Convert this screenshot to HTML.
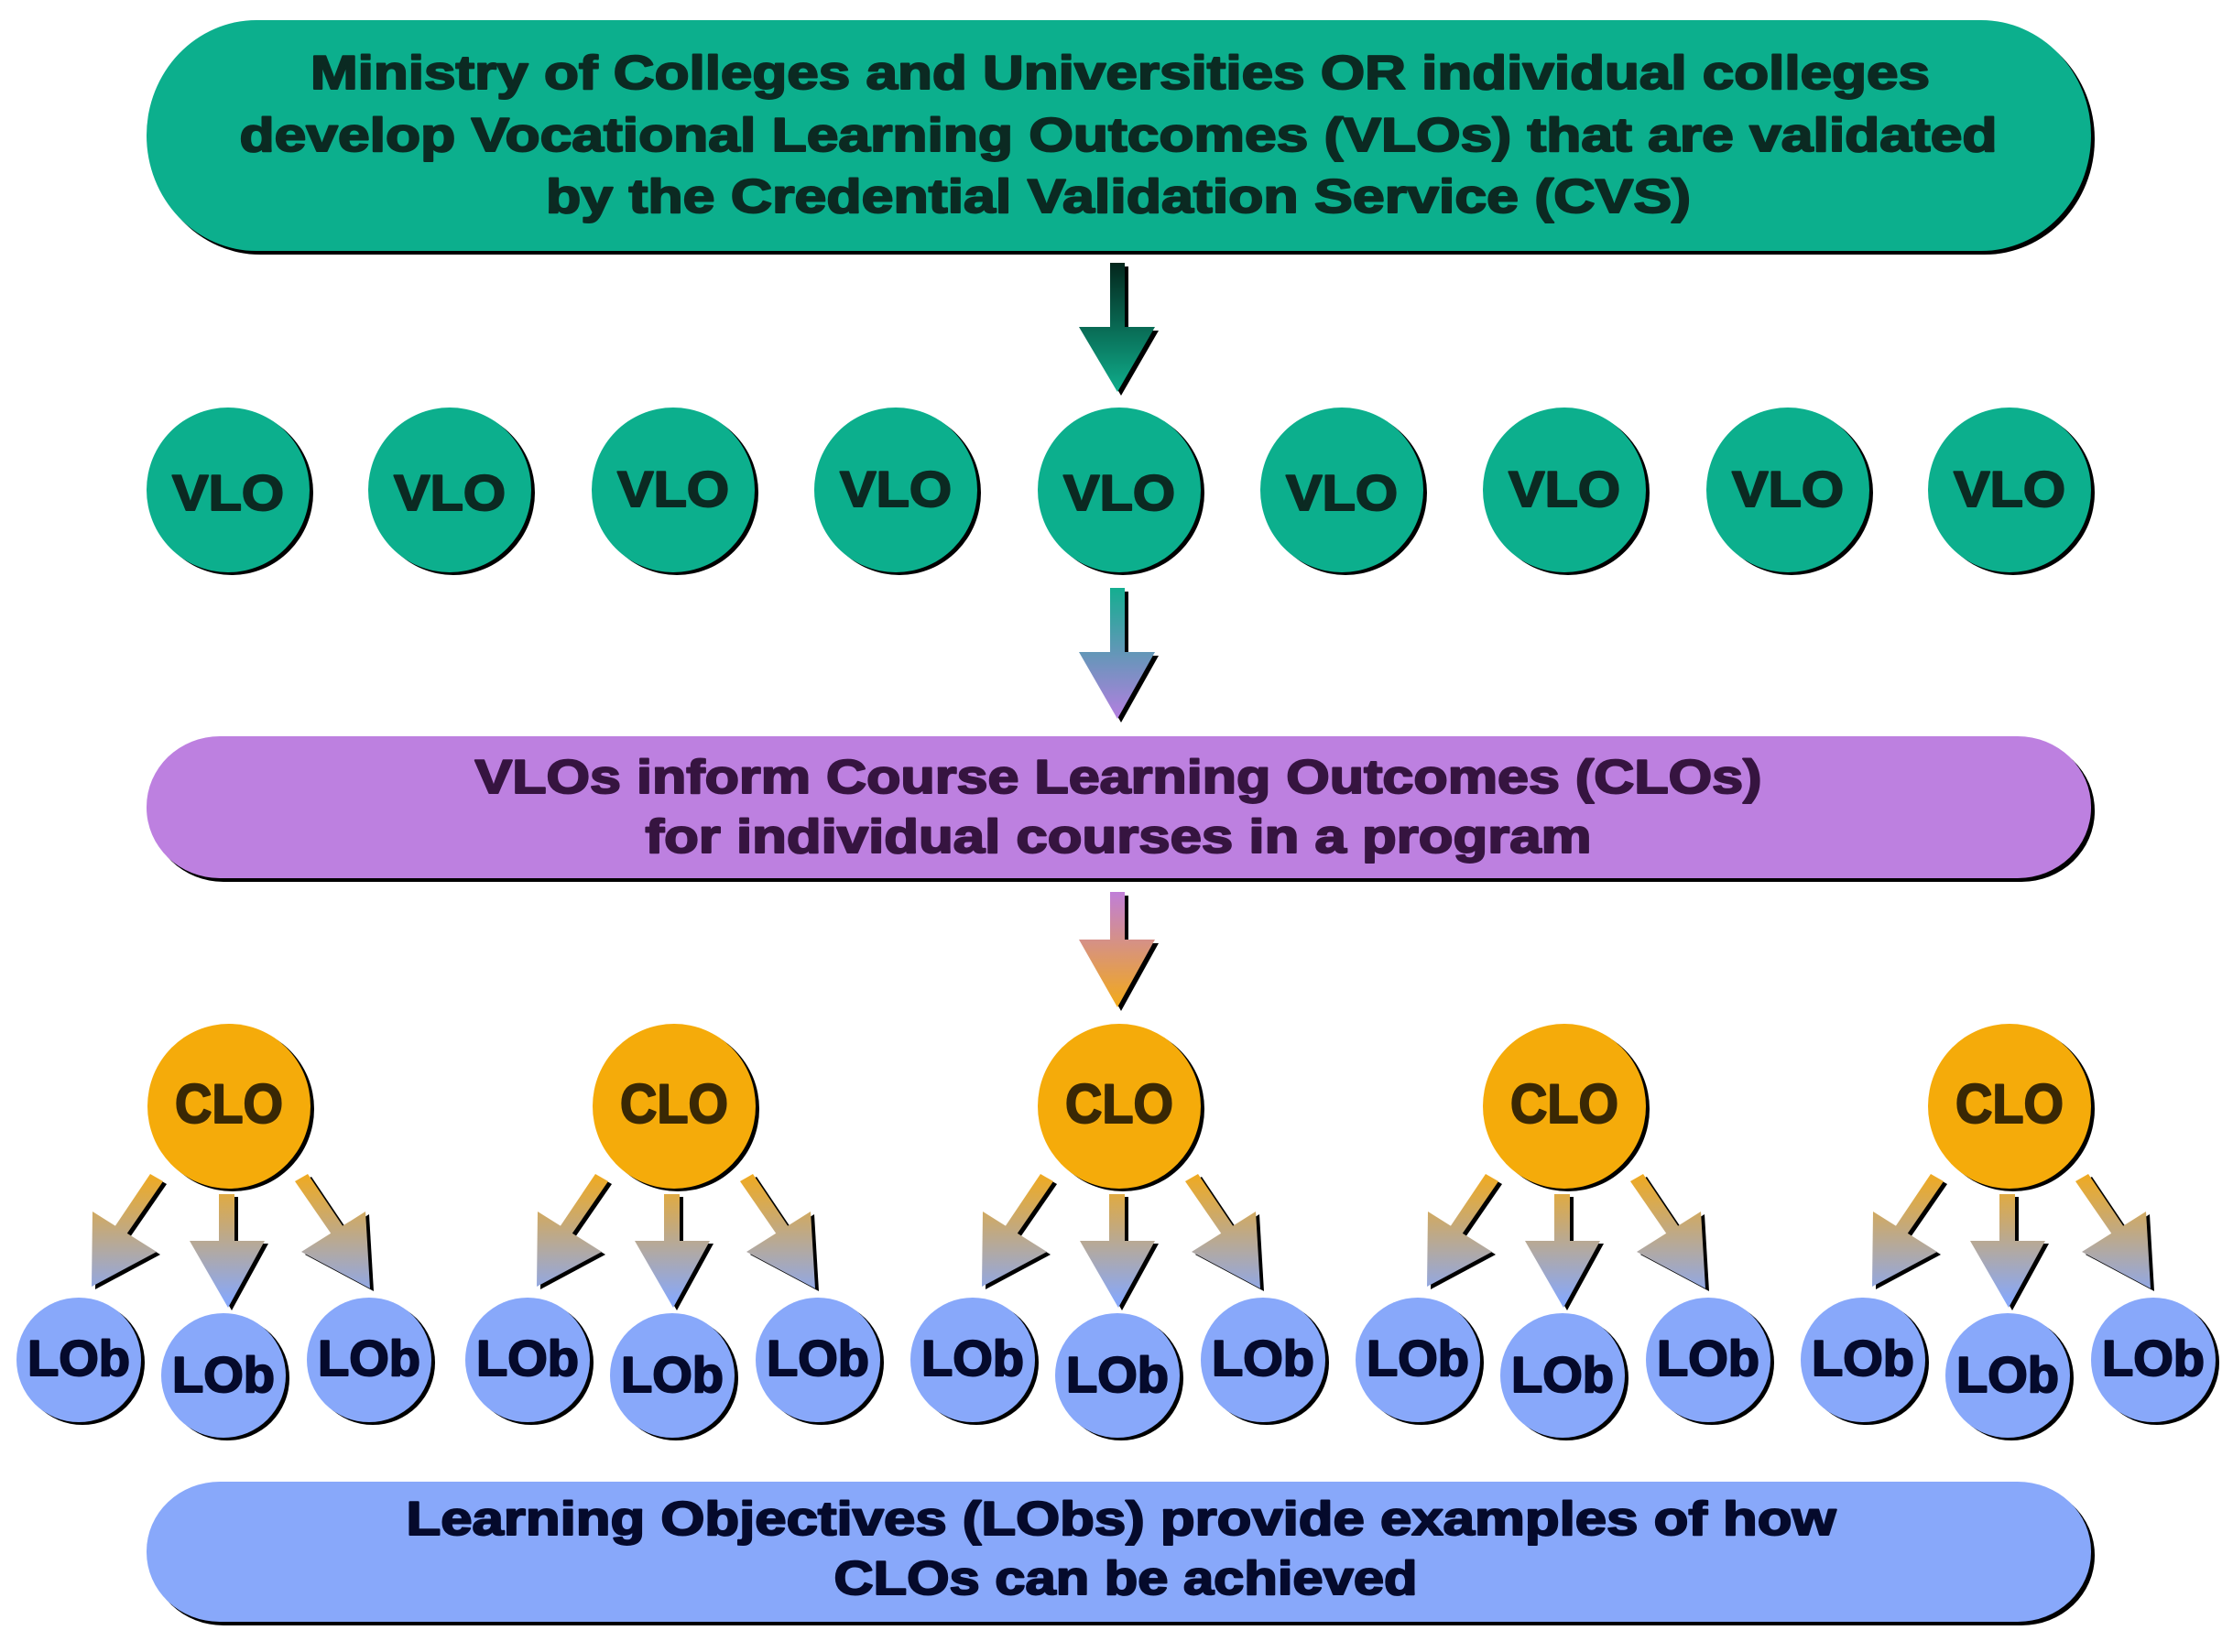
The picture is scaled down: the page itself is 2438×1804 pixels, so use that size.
<!DOCTYPE html>
<html><head><meta charset="utf-8"><style>
html,body{margin:0;padding:0;background:#fff;}
svg{display:block;}
text{font-family:"Liberation Sans",Arial,sans-serif;font-weight:bold;text-anchor:middle;stroke-width:2px;stroke-linejoin:round;}
</style></head><body>
<svg width="2438" height="1804" viewBox="0 0 2438 1804" xmlns="http://www.w3.org/2000/svg">
<defs>
<linearGradient id="g1" x1="0" y1="0" x2="0" y2="1"><stop offset="0" stop-color="#03261c"/><stop offset="1" stop-color="#0fae8c"/></linearGradient>
<linearGradient id="g2" x1="0" y1="0" x2="0" y2="1"><stop offset="0" stop-color="#14ae90"/><stop offset="1" stop-color="#b47fe0"/></linearGradient>
<linearGradient id="g3" x1="0" y1="0" x2="0" y2="1"><stop offset="0" stop-color="#c07ed8"/><stop offset="1" stop-color="#f2aa18"/></linearGradient>
<linearGradient id="g4" gradientUnits="userSpaceOnUse" x1="0" y1="1282" x2="0" y2="1420"><stop offset="0" stop-color="#f0aa20"/><stop offset="1" stop-color="#88a8f8"/></linearGradient>
<g id="lobarrows">
  <g transform="translate(4,3)" fill="#000">
    <polygon points="-11,1304 6,1304 6,1355 39,1355 -1,1428 -43,1355 -11,1355"/>
    <polygon points="72,1290 86,1282 125,1340 112,1348"/><polygon points="149,1323 79,1367 154,1407"/>
    <polygon points="-72,1290 -86,1282 -125,1340 -112,1348"/><polygon points="-149,1323 -79,1367 -150,1405"/>
  </g>
  <g fill="url(#g4)">
    <polygon points="-11,1304 6,1304 6,1355 39,1355 -1,1428 -43,1355 -11,1355"/>
    <polygon points="72,1290 86,1282 125,1340 112,1348"/><polygon points="149,1323 79,1367 154,1407"/>
    <polygon points="-72,1290 -86,1282 -125,1340 -112,1348"/><polygon points="-149,1323 -79,1367 -150,1405"/>
  </g>
</g>
</defs>

<rect x="164" y="26" width="2123" height="252" rx="120" ry="126" fill="#000"/>
<rect x="160" y="22" width="2123" height="252" rx="120" ry="126" fill="#0caf8d"/>
<g fill="#0b2a22" stroke="#0b2a22" font-size="52">
<text x="1223" y="97" textLength="1768" lengthAdjust="spacingAndGlyphs">Ministry of Colleges and Universities OR individual colleges</text>
<text x="1221" y="165" textLength="1919" lengthAdjust="spacingAndGlyphs">develop Vocational Learning Outcomes (VLOs) that are validated</text>
<text x="1221" y="232" textLength="1250" lengthAdjust="spacingAndGlyphs">by the Credential Validation Service (CVS)</text>
</g>

<polygon transform="translate(4,4)" points="1212,287 1228,287 1228,357 1261,357 1220,428 1178,357 1212,357" fill="#000"/>
<polygon points="1212,287 1228,287 1228,357 1261,357 1220,428 1178,357 1212,357" fill="url(#g1)"/>

<g>
<g fill="#000">
<ellipse cx="253" cy="538" rx="89" ry="90"/><ellipse cx="495" cy="538" rx="89" ry="90"/><ellipse cx="739" cy="538" rx="89" ry="90"/><ellipse cx="982" cy="538" rx="89" ry="90"/><ellipse cx="1226" cy="538" rx="89" ry="90"/><ellipse cx="1469" cy="538" rx="89" ry="90"/><ellipse cx="1712" cy="538" rx="89" ry="90"/><ellipse cx="1956" cy="538" rx="89" ry="90"/><ellipse cx="2198" cy="538" rx="89" ry="90"/>
</g>
<g fill="#0caf8d">
<ellipse cx="249" cy="535" rx="89" ry="90"/><ellipse cx="491" cy="535" rx="89" ry="90"/><ellipse cx="735" cy="535" rx="89" ry="90"/><ellipse cx="978" cy="535" rx="89" ry="90"/><ellipse cx="1222" cy="535" rx="89" ry="90"/><ellipse cx="1465" cy="535" rx="89" ry="90"/><ellipse cx="1708" cy="535" rx="89" ry="90"/><ellipse cx="1952" cy="535" rx="89" ry="90"/><ellipse cx="2194" cy="535" rx="89" ry="90"/>
</g>
<g fill="#0b2a22" stroke="#0b2a22" font-size="55">
<text x="249" y="557" textLength="122" lengthAdjust="spacingAndGlyphs">VLO</text>
<text x="491" y="557" textLength="122" lengthAdjust="spacingAndGlyphs">VLO</text>
<text x="735" y="553" textLength="122" lengthAdjust="spacingAndGlyphs">VLO</text>
<text x="978" y="553" textLength="122" lengthAdjust="spacingAndGlyphs">VLO</text>
<text x="1222" y="557" textLength="122" lengthAdjust="spacingAndGlyphs">VLO</text>
<text x="1465" y="557" textLength="122" lengthAdjust="spacingAndGlyphs">VLO</text>
<text x="1708" y="553" textLength="122" lengthAdjust="spacingAndGlyphs">VLO</text>
<text x="1952" y="553" textLength="122" lengthAdjust="spacingAndGlyphs">VLO</text>
<text x="2194" y="553" textLength="122" lengthAdjust="spacingAndGlyphs">VLO</text>
</g>
</g>

<polygon transform="translate(4,4)" points="1212,642 1228,642 1228,712 1261,712 1220,785 1178,712 1212,712" fill="#000"/>
<polygon points="1212,642 1228,642 1228,712 1261,712 1220,785 1178,712 1212,712" fill="url(#g2)"/>

<rect x="164" y="808" width="2123" height="155" rx="80" ry="77" fill="#000"/>
<rect x="160" y="804" width="2123" height="155" rx="80" ry="77" fill="#bd80e0"/>
<g fill="#361440" stroke="#361440" font-size="52">
<text x="1221" y="866" textLength="1405" lengthAdjust="spacingAndGlyphs">VLOs inform Course Learning Outcomes (CLOs)</text>
<text x="1221" y="931" textLength="1033" lengthAdjust="spacingAndGlyphs">for individual courses in a program</text>
</g>

<polygon transform="translate(4,4)" points="1212,974 1228,974 1228,1026 1261,1026 1220,1100 1178,1026 1212,1026" fill="#000"/>
<polygon points="1212,974 1228,974 1228,1026 1261,1026 1220,1100 1178,1026 1212,1026" fill="url(#g3)"/>

<g>
<g transform="translate(250,0)"><use href="#lobarrows"/></g>
<g transform="translate(736,0)"><use href="#lobarrows"/></g>
<g transform="translate(1222,0)"><use href="#lobarrows"/></g>
<g transform="translate(1708,0)"><use href="#lobarrows"/></g>
<g transform="translate(2194,0)"><use href="#lobarrows"/></g>
</g>
<g fill="#000">
<ellipse cx="254" cy="1211" rx="89" ry="90"/><ellipse cx="740" cy="1211" rx="89" ry="90"/><ellipse cx="1226" cy="1211" rx="89" ry="90"/><ellipse cx="1712" cy="1211" rx="89" ry="90"/><ellipse cx="2198" cy="1211" rx="89" ry="90"/>
</g>
<g fill="#f5ab0a">
<ellipse cx="250" cy="1208" rx="89" ry="90"/><ellipse cx="736" cy="1208" rx="89" ry="90"/><ellipse cx="1222" cy="1208" rx="89" ry="90"/><ellipse cx="1708" cy="1208" rx="89" ry="90"/><ellipse cx="2194" cy="1208" rx="89" ry="90"/>
</g>
<g fill="#3a2804" stroke="#3a2804" font-size="60">
<text x="250" y="1226" textLength="118" lengthAdjust="spacingAndGlyphs">CLO</text>
<text x="736" y="1226" textLength="118" lengthAdjust="spacingAndGlyphs">CLO</text>
<text x="1222" y="1226" textLength="118" lengthAdjust="spacingAndGlyphs">CLO</text>
<text x="1708" y="1226" textLength="118" lengthAdjust="spacingAndGlyphs">CLO</text>
<text x="2194" y="1226" textLength="118" lengthAdjust="spacingAndGlyphs">CLO</text>
</g>

<g fill="#000">
<ellipse cx="90" cy="1488" rx="68" ry="68"/><ellipse cx="248" cy="1505" rx="68" ry="68"/><ellipse cx="407" cy="1488" rx="68" ry="68"/>
<ellipse cx="580" cy="1488" rx="68" ry="68"/><ellipse cx="738" cy="1505" rx="68" ry="68"/><ellipse cx="897" cy="1488" rx="68" ry="68"/>
<ellipse cx="1066" cy="1488" rx="68" ry="68"/><ellipse cx="1224" cy="1505" rx="68" ry="68"/><ellipse cx="1383" cy="1488" rx="68" ry="68"/>
<ellipse cx="1552" cy="1488" rx="68" ry="68"/><ellipse cx="1710" cy="1505" rx="68" ry="68"/><ellipse cx="1869" cy="1488" rx="68" ry="68"/>
<ellipse cx="2038" cy="1488" rx="68" ry="68"/><ellipse cx="2196" cy="1505" rx="68" ry="68"/><ellipse cx="2355" cy="1488" rx="68" ry="68"/>
</g>
<g fill="#88a8fa">
<ellipse cx="86" cy="1485" rx="68" ry="68"/><ellipse cx="244" cy="1502" rx="68" ry="68"/><ellipse cx="403" cy="1485" rx="68" ry="68"/>
<ellipse cx="576" cy="1485" rx="68" ry="68"/><ellipse cx="734" cy="1502" rx="68" ry="68"/><ellipse cx="893" cy="1485" rx="68" ry="68"/>
<ellipse cx="1062" cy="1485" rx="68" ry="68"/><ellipse cx="1220" cy="1502" rx="68" ry="68"/><ellipse cx="1379" cy="1485" rx="68" ry="68"/>
<ellipse cx="1548" cy="1485" rx="68" ry="68"/><ellipse cx="1706" cy="1502" rx="68" ry="68"/><ellipse cx="1865" cy="1485" rx="68" ry="68"/>
<ellipse cx="2034" cy="1485" rx="68" ry="68"/><ellipse cx="2192" cy="1502" rx="68" ry="68"/><ellipse cx="2351" cy="1485" rx="68" ry="68"/>
</g>
<g fill="#050a2c" stroke="#050a2c" font-size="55">
<text x="86" y="1502" textLength="112" lengthAdjust="spacingAndGlyphs">LOb</text><text x="244" y="1520" textLength="112" lengthAdjust="spacingAndGlyphs">LOb</text><text x="403" y="1502" textLength="112" lengthAdjust="spacingAndGlyphs">LOb</text>
<text x="576" y="1502" textLength="112" lengthAdjust="spacingAndGlyphs">LOb</text><text x="734" y="1520" textLength="112" lengthAdjust="spacingAndGlyphs">LOb</text><text x="893" y="1502" textLength="112" lengthAdjust="spacingAndGlyphs">LOb</text>
<text x="1062" y="1502" textLength="112" lengthAdjust="spacingAndGlyphs">LOb</text><text x="1220" y="1520" textLength="112" lengthAdjust="spacingAndGlyphs">LOb</text><text x="1379" y="1502" textLength="112" lengthAdjust="spacingAndGlyphs">LOb</text>
<text x="1548" y="1502" textLength="112" lengthAdjust="spacingAndGlyphs">LOb</text><text x="1706" y="1520" textLength="112" lengthAdjust="spacingAndGlyphs">LOb</text><text x="1865" y="1502" textLength="112" lengthAdjust="spacingAndGlyphs">LOb</text>
<text x="2034" y="1502" textLength="112" lengthAdjust="spacingAndGlyphs">LOb</text><text x="2192" y="1520" textLength="112" lengthAdjust="spacingAndGlyphs">LOb</text><text x="2351" y="1502" textLength="112" lengthAdjust="spacingAndGlyphs">LOb</text>
</g>

<rect x="164" y="1622" width="2123" height="153" rx="80" ry="76" fill="#000"/>
<rect x="160" y="1618" width="2123" height="153" rx="80" ry="76" fill="#88a8fa"/>
<g fill="#050a2c" stroke="#050a2c" font-size="52">
<text x="1224" y="1676" textLength="1561" lengthAdjust="spacingAndGlyphs">Learning Objectives (LObs) provide examples of how</text>
<text x="1229" y="1741" textLength="637" lengthAdjust="spacingAndGlyphs">CLOs can be achieved</text>
</g>
</svg>
</body></html>
